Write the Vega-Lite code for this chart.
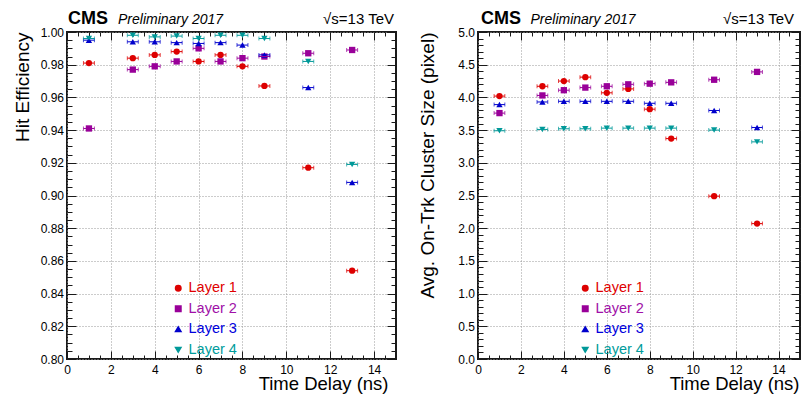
{
  "$schema": "https://vega.github.io/schema/vega-lite/v6.json",
  "autosize": {"type": "pad"},
  "padding": {"left": 12, "top": 8, "right": 0, "bottom": 0},
  "background": "white",
  "bounds": "flush",
  "spacing": 82,
  "datasets": {
    "eff": [
      {"t": 1, "layer": "Layer 1", "v": 0.981, "lo": 0.75, "hi": 1.25},
      {"t": 3, "layer": "Layer 1", "v": 0.984, "lo": 2.75, "hi": 3.25},
      {"t": 4, "layer": "Layer 1", "v": 0.986, "lo": 3.75, "hi": 4.25},
      {"t": 5, "layer": "Layer 1", "v": 0.988, "lo": 4.75, "hi": 5.25},
      {"t": 6, "layer": "Layer 1", "v": 0.982, "lo": 5.75, "hi": 6.25},
      {"t": 7, "layer": "Layer 1", "v": 0.986, "lo": 6.75, "hi": 7.25},
      {"t": 8, "layer": "Layer 1", "v": 0.979, "lo": 7.75, "hi": 8.25},
      {"t": 9, "layer": "Layer 1", "v": 0.967, "lo": 8.75, "hi": 9.25},
      {"t": 11, "layer": "Layer 1", "v": 0.917, "lo": 10.75, "hi": 11.25},
      {"t": 13, "layer": "Layer 1", "v": 0.854, "lo": 12.75, "hi": 13.25},
      {"t": 1, "layer": "Layer 2", "v": 0.941, "lo": 0.75, "hi": 1.25},
      {"t": 3, "layer": "Layer 2", "v": 0.977, "lo": 2.75, "hi": 3.25},
      {"t": 4, "layer": "Layer 2", "v": 0.979, "lo": 3.75, "hi": 4.25},
      {"t": 5, "layer": "Layer 2", "v": 0.982, "lo": 4.75, "hi": 5.25},
      {"t": 6, "layer": "Layer 2", "v": 0.990, "lo": 5.75, "hi": 6.25},
      {"t": 7, "layer": "Layer 2", "v": 0.982, "lo": 6.75, "hi": 7.25},
      {"t": 8, "layer": "Layer 2", "v": 0.984, "lo": 7.75, "hi": 8.25},
      {"t": 9, "layer": "Layer 2", "v": 0.985, "lo": 8.75, "hi": 9.25},
      {"t": 11, "layer": "Layer 2", "v": 0.987, "lo": 10.75, "hi": 11.25},
      {"t": 13, "layer": "Layer 2", "v": 0.989, "lo": 12.75, "hi": 13.25},
      {"t": 1, "layer": "Layer 3", "v": 0.995, "lo": 0.75, "hi": 1.25},
      {"t": 3, "layer": "Layer 3", "v": 0.994, "lo": 2.75, "hi": 3.25},
      {"t": 4, "layer": "Layer 3", "v": 0.994, "lo": 3.75, "hi": 4.25},
      {"t": 5, "layer": "Layer 3", "v": 0.9935, "lo": 4.75, "hi": 5.25},
      {"t": 6, "layer": "Layer 3", "v": 0.993, "lo": 5.75, "hi": 6.25},
      {"t": 7, "layer": "Layer 3", "v": 0.9935, "lo": 6.75, "hi": 7.25},
      {"t": 8, "layer": "Layer 3", "v": 0.992, "lo": 7.75, "hi": 8.25},
      {"t": 9, "layer": "Layer 3", "v": 0.986, "lo": 8.75, "hi": 9.25},
      {"t": 11, "layer": "Layer 3", "v": 0.966, "lo": 10.75, "hi": 11.25},
      {"t": 13, "layer": "Layer 3", "v": 0.908, "lo": 12.75, "hi": 13.25},
      {"t": 1, "layer": "Layer 4", "v": 0.996, "lo": 0.75, "hi": 1.25},
      {"t": 3, "layer": "Layer 4", "v": 0.998, "lo": 2.75, "hi": 3.25},
      {"t": 4, "layer": "Layer 4", "v": 0.997, "lo": 3.75, "hi": 4.25},
      {"t": 5, "layer": "Layer 4", "v": 0.9975, "lo": 4.75, "hi": 5.25},
      {"t": 6, "layer": "Layer 4", "v": 0.996, "lo": 5.75, "hi": 6.25},
      {"t": 7, "layer": "Layer 4", "v": 0.998, "lo": 6.75, "hi": 7.25},
      {"t": 8, "layer": "Layer 4", "v": 0.998, "lo": 7.75, "hi": 8.25},
      {"t": 9, "layer": "Layer 4", "v": 0.996, "lo": 8.75, "hi": 9.25},
      {"t": 11, "layer": "Layer 4", "v": 0.982, "lo": 10.75, "hi": 11.25},
      {"t": 13, "layer": "Layer 4", "v": 0.919, "lo": 12.75, "hi": 13.25}
    ],
    "size": [
      {"t": 1, "layer": "Layer 1", "v": 4.02, "lo": 0.75, "hi": 1.25},
      {"t": 3, "layer": "Layer 1", "v": 4.17, "lo": 2.75, "hi": 3.25},
      {"t": 4, "layer": "Layer 1", "v": 4.25, "lo": 3.75, "hi": 4.25},
      {"t": 5, "layer": "Layer 1", "v": 4.31, "lo": 4.75, "hi": 5.25},
      {"t": 6, "layer": "Layer 1", "v": 4.07, "lo": 5.75, "hi": 6.25},
      {"t": 7, "layer": "Layer 1", "v": 4.13, "lo": 6.75, "hi": 7.25},
      {"t": 8, "layer": "Layer 1", "v": 3.82, "lo": 7.75, "hi": 8.25},
      {"t": 9, "layer": "Layer 1", "v": 3.37, "lo": 8.75, "hi": 9.25},
      {"t": 11, "layer": "Layer 1", "v": 2.49, "lo": 10.75, "hi": 11.25},
      {"t": 13, "layer": "Layer 1", "v": 2.07, "lo": 12.75, "hi": 13.25},
      {"t": 1, "layer": "Layer 2", "v": 3.76, "lo": 0.75, "hi": 1.25},
      {"t": 3, "layer": "Layer 2", "v": 4.03, "lo": 2.75, "hi": 3.25},
      {"t": 4, "layer": "Layer 2", "v": 4.11, "lo": 3.75, "hi": 4.25},
      {"t": 5, "layer": "Layer 2", "v": 4.15, "lo": 4.75, "hi": 5.25},
      {"t": 6, "layer": "Layer 2", "v": 4.17, "lo": 5.75, "hi": 6.25},
      {"t": 7, "layer": "Layer 2", "v": 4.20, "lo": 6.75, "hi": 7.25},
      {"t": 8, "layer": "Layer 2", "v": 4.21, "lo": 7.75, "hi": 8.25},
      {"t": 9, "layer": "Layer 2", "v": 4.23, "lo": 8.75, "hi": 9.25},
      {"t": 11, "layer": "Layer 2", "v": 4.27, "lo": 10.75, "hi": 11.25},
      {"t": 13, "layer": "Layer 2", "v": 4.39, "lo": 12.75, "hi": 13.25},
      {"t": 1, "layer": "Layer 3", "v": 3.89, "lo": 0.75, "hi": 1.25},
      {"t": 3, "layer": "Layer 3", "v": 3.93, "lo": 2.75, "hi": 3.25},
      {"t": 4, "layer": "Layer 3", "v": 3.94, "lo": 3.75, "hi": 4.25},
      {"t": 5, "layer": "Layer 3", "v": 3.94, "lo": 4.75, "hi": 5.25},
      {"t": 6, "layer": "Layer 3", "v": 3.94, "lo": 5.75, "hi": 6.25},
      {"t": 7, "layer": "Layer 3", "v": 3.94, "lo": 6.75, "hi": 7.25},
      {"t": 8, "layer": "Layer 3", "v": 3.91, "lo": 7.75, "hi": 8.25},
      {"t": 9, "layer": "Layer 3", "v": 3.91, "lo": 8.75, "hi": 9.25},
      {"t": 11, "layer": "Layer 3", "v": 3.80, "lo": 10.75, "hi": 11.25},
      {"t": 13, "layer": "Layer 3", "v": 3.54, "lo": 12.75, "hi": 13.25},
      {"t": 1, "layer": "Layer 4", "v": 3.49, "lo": 0.75, "hi": 1.25},
      {"t": 3, "layer": "Layer 4", "v": 3.51, "lo": 2.75, "hi": 3.25},
      {"t": 4, "layer": "Layer 4", "v": 3.52, "lo": 3.75, "hi": 4.25},
      {"t": 5, "layer": "Layer 4", "v": 3.52, "lo": 4.75, "hi": 5.25},
      {"t": 6, "layer": "Layer 4", "v": 3.53, "lo": 5.75, "hi": 6.25},
      {"t": 7, "layer": "Layer 4", "v": 3.53, "lo": 6.75, "hi": 7.25},
      {"t": 8, "layer": "Layer 4", "v": 3.53, "lo": 7.75, "hi": 8.25},
      {"t": 9, "layer": "Layer 4", "v": 3.53, "lo": 8.75, "hi": 9.25},
      {"t": 11, "layer": "Layer 4", "v": 3.50, "lo": 10.75, "hi": 11.25},
      {"t": 13, "layer": "Layer 4", "v": 3.32, "lo": 12.75, "hi": 13.25}
    ]
  },
  "resolve": {
    "scale": {"color": "independent", "shape": "independent"},
    "legend": {"color": "independent", "shape": "independent"}
  },
  "hconcat": [
    {
      "width": 329,
      "height": 327,
      "data": {"name": "eff"},
      "resolve": {"axis": {"x": "independent", "y": "independent"}},
      "layer": [
        {
          "mark": {"type": "point", "filled": true, "opacity": 1, "size": 40},
          "encoding": {
            "x": {"field": "t", "type": "quantitative",
              "scale": {"domain": [0, 15], "nice": false, "zero": false},
              "axis": {"orient": "bottom", "values": [0, 2, 4, 6, 8, 10, 12, 14], "format": "d", "tickSize": -8, "labelPadding": 13, "grid": true,
                "title": "Time Delay (ns)", "titleFontSize": 18.5, "titleAlign": "right", "titleBaseline": "alphabetic", "titleX": 321, "titleY": 30.5}},
            "y": {"field": "v", "type": "quantitative",
              "scale": {"domain": [0.8, 1.0], "nice": false, "zero": false},
              "axis": {"orient": "left", "values": [0.8, 0.82, 0.84, 0.86, 0.88, 0.9, 0.92, 0.94, 0.96, 0.98, 1], "format": ".2f", "tickSize": -9, "labelPadding": 12.5, "grid": true,
                "title": "Hit Efficiency", "titleFontSize": 19, "titleAngle": -90, "titleAlign": "right", "titleBaseline": "alphabetic", "titleX": -38.5, "titleY": 0}},
            "color": {"field": "layer", "type": "nominal",
              "scale": {"domain": ["Layer 1", "Layer 2", "Layer 3", "Layer 4"], "range": ["#dd0000", "#990099", "#0000cc", "#009999"]},
              "legend": {"orient": "none", "legendX": 104, "legendY": 249, "title": null, "padding": 0, "labelFontSize": 14.5, "symbolSize": 30, "rowPadding": 5.5, "labelOffset": 3,
                "labelColor": {"expr": "datum.value === 'Layer 1' ? '#e00000' : datum.value === 'Layer 2' ? '#a010a8' : datum.value === 'Layer 3' ? '#0000dd' : '#009c9c'"}}},
            "shape": {"field": "layer", "type": "nominal",
              "scale": {"domain": ["Layer 1", "Layer 2", "Layer 3", "Layer 4"], "range": ["circle", "square", "triangle-up", "triangle-down"]},
              "legend": {"orient": "none", "legendX": 104, "legendY": 249, "title": null, "padding": 0, "labelFontSize": 14.5, "symbolSize": 30, "rowPadding": 5.5, "labelOffset": 3,
                "labelColor": {"expr": "datum.value === 'Layer 1' ? '#e00000' : datum.value === 'Layer 2' ? '#a010a8' : datum.value === 'Layer 3' ? '#0000dd' : '#009c9c'"}}}
          }
        },
        {
          "mark": {"type": "rule", "strokeWidth": 1},
          "encoding": {
            "x": {"field": "lo", "type": "quantitative",
              "axis": {"orient": "bottom", "values": [0,0.5,1,1.5,2,2.5,3,3.5,4,4.5,5,5.5,6,6.5,7,7.5,8,8.5,9,9.5,10,10.5,11,11.5,12,12.5,13,13.5,14,14.5,15], "tickSize": -4, "labels": false, "grid": false, "title": null}},
            "x2": {"field": "hi"},
            "y": {"field": "v", "type": "quantitative",
              "axis": {"orient": "left", "values": [0.8,0.805,0.81,0.815,0.82,0.825,0.83,0.835,0.84,0.845,0.85,0.855,0.86,0.865,0.87,0.875,0.88,0.885,0.89,0.895,0.9,0.905,0.91,0.915,0.92,0.925,0.93,0.935,0.94,0.945,0.95,0.955,0.96,0.965,0.97,0.975,0.98,0.985,0.99,0.995,1], "tickSize": -5, "labels": false, "grid": false, "title": null}},
            "color": {"field": "layer", "type": "nominal", "legend": null}
          }
        },
        {
          "mark": {"type": "tick", "orient": "vertical", "size": 4, "thickness": 1},
          "encoding": {
            "x": {"field": "lo", "type": "quantitative",
              "axis": {"orient": "top", "values": [0, 2, 4, 6, 8, 10, 12, 14], "tickSize": -8, "labels": false, "grid": false,
                "title": "√s=13 TeV", "titleFontSize": 15, "titleAlign": "right", "titleBaseline": "alphabetic", "titleX": 326.5, "titleY": -8.5}},
            "y": {"field": "v", "type": "quantitative",
              "axis": {"orient": "right", "values": [0.8, 0.82, 0.84, 0.86, 0.88, 0.9, 0.92, 0.94, 0.96, 0.98, 1], "tickSize": -9, "labels": false, "grid": false, "title": null}},
            "color": {"field": "layer", "type": "nominal", "legend": null}
          }
        },
        {
          "mark": {"type": "tick", "orient": "vertical", "size": 4, "thickness": 1},
          "encoding": {
            "x": {"field": "hi", "type": "quantitative",
              "axis": {"orient": "top", "values": [0,0.5,1,1.5,2,2.5,3,3.5,4,4.5,5,5.5,6,6.5,7,7.5,8,8.5,9,9.5,10,10.5,11,11.5,12,12.5,13,13.5,14,14.5,15], "tickSize": -4, "labels": false, "grid": false,
                "title": "Preliminary 2017", "titleFontSize": 14, "titleFontStyle": "italic", "titleAlign": "left", "titleBaseline": "alphabetic", "titleX": 50.5, "titleY": -8.5}},
            "y": {"field": "v", "type": "quantitative",
              "axis": {"orient": "right", "values": [0.8,0.805,0.81,0.815,0.82,0.825,0.83,0.835,0.84,0.845,0.85,0.855,0.86,0.865,0.87,0.875,0.88,0.885,0.89,0.895,0.9,0.905,0.91,0.915,0.92,0.925,0.93,0.935,0.94,0.945,0.95,0.955,0.96,0.965,0.97,0.975,0.98,0.985,0.99,0.995,1], "tickSize": -5, "labels": false, "grid": false, "title": null}},
            "color": {"field": "layer", "type": "nominal", "legend": null}
          }
        },
        {
          "mark": {"type": "point", "opacity": 0},
          "encoding": {
            "x": {"field": "t", "type": "quantitative",
              "axis": {"orient": "top", "ticks": false, "labels": false, "grid": false, "domain": false,
                "title": "CMS", "titleFontSize": 18, "titleFontWeight": "bold", "titleAlign": "left", "titleBaseline": "alphabetic", "titleX": 0.5, "titleY": -8.5}},
            "y": {"field": "v", "type": "quantitative", "axis": null}
          }
        }
      ]
    },
    {
      "width": 322,
      "height": 327,
      "data": {"name": "size"},
      "resolve": {"axis": {"x": "independent", "y": "independent"}},
      "layer": [
        {
          "mark": {"type": "point", "filled": true, "opacity": 1, "size": 40},
          "encoding": {
            "x": {"field": "t", "type": "quantitative",
              "scale": {"domain": [0, 15], "nice": false, "zero": false},
              "axis": {"orient": "bottom", "values": [0, 2, 4, 6, 8, 10, 12, 14], "format": "d", "tickSize": -8, "labelPadding": 13, "grid": true,
                "title": "Time Delay (ns)", "titleFontSize": 18.5, "titleAlign": "right", "titleBaseline": "alphabetic", "titleX": 321, "titleY": 30.5}},
            "y": {"field": "v", "type": "quantitative",
              "scale": {"domain": [0, 5], "nice": false, "zero": false},
              "axis": {"orient": "left", "values": [0, 0.5, 1, 1.5, 2, 2.5, 3, 3.5, 4, 4.5, 5], "format": ".1f", "tickSize": -9, "labelPadding": 12.5, "grid": true,
                "title": "Avg. On-Trk Cluster Size (pixel)", "titleFontSize": 19, "titleAngle": -90, "titleAlign": "right", "titleBaseline": "alphabetic", "titleX": -45, "titleY": 0}},
            "color": {"field": "layer", "type": "nominal",
              "scale": {"domain": ["Layer 1", "Layer 2", "Layer 3", "Layer 4"], "range": ["#dd0000", "#990099", "#0000cc", "#009999"]},
              "legend": {"orient": "none", "legendX": 100, "legendY": 249, "title": null, "padding": 0, "labelFontSize": 14.5, "symbolSize": 30, "rowPadding": 5.5, "labelOffset": 3,
                "labelColor": {"expr": "datum.value === 'Layer 1' ? '#e00000' : datum.value === 'Layer 2' ? '#a010a8' : datum.value === 'Layer 3' ? '#0000dd' : '#009c9c'"}}},
            "shape": {"field": "layer", "type": "nominal",
              "scale": {"domain": ["Layer 1", "Layer 2", "Layer 3", "Layer 4"], "range": ["circle", "square", "triangle-up", "triangle-down"]},
              "legend": {"orient": "none", "legendX": 100, "legendY": 249, "title": null, "padding": 0, "labelFontSize": 14.5, "symbolSize": 30, "rowPadding": 5.5, "labelOffset": 3,
                "labelColor": {"expr": "datum.value === 'Layer 1' ? '#e00000' : datum.value === 'Layer 2' ? '#a010a8' : datum.value === 'Layer 3' ? '#0000dd' : '#009c9c'"}}}
          }
        },
        {
          "mark": {"type": "rule", "strokeWidth": 1},
          "encoding": {
            "x": {"field": "lo", "type": "quantitative",
              "axis": {"orient": "bottom", "values": [0,0.5,1,1.5,2,2.5,3,3.5,4,4.5,5,5.5,6,6.5,7,7.5,8,8.5,9,9.5,10,10.5,11,11.5,12,12.5,13,13.5,14,14.5,15], "tickSize": -4, "labels": false, "grid": false, "title": null}},
            "x2": {"field": "hi"},
            "y": {"field": "v", "type": "quantitative",
              "axis": {"orient": "left", "values": [0,0.1,0.2,0.3,0.4,0.5,0.6,0.7,0.8,0.9,1,1.1,1.2,1.3,1.4,1.5,1.6,1.7,1.8,1.9,2,2.1,2.2,2.3,2.4,2.5,2.6,2.7,2.8,2.9,3,3.1,3.2,3.3,3.4,3.5,3.6,3.7,3.8,3.9,4,4.1,4.2,4.3,4.4,4.5,4.6,4.7,4.8,4.9,5], "tickSize": -5, "labels": false, "grid": false, "title": null}},
            "color": {"field": "layer", "type": "nominal", "legend": null}
          }
        },
        {
          "mark": {"type": "tick", "orient": "vertical", "size": 4, "thickness": 1},
          "encoding": {
            "x": {"field": "lo", "type": "quantitative",
              "axis": {"orient": "top", "values": [0, 2, 4, 6, 8, 10, 12, 14], "tickSize": -8, "labels": false, "grid": false,
                "title": "√s=13 TeV", "titleFontSize": 15, "titleAlign": "right", "titleBaseline": "alphabetic", "titleX": 315.5, "titleY": -8.5}},
            "y": {"field": "v", "type": "quantitative",
              "axis": {"orient": "right", "values": [0, 0.5, 1, 1.5, 2, 2.5, 3, 3.5, 4, 4.5, 5], "tickSize": -9, "labels": false, "grid": false, "title": null}},
            "color": {"field": "layer", "type": "nominal", "legend": null}
          }
        },
        {
          "mark": {"type": "tick", "orient": "vertical", "size": 4, "thickness": 1},
          "encoding": {
            "x": {"field": "hi", "type": "quantitative",
              "axis": {"orient": "top", "values": [0,0.5,1,1.5,2,2.5,3,3.5,4,4.5,5,5.5,6,6.5,7,7.5,8,8.5,9,9.5,10,10.5,11,11.5,12,12.5,13,13.5,14,14.5,15], "tickSize": -4, "labels": false, "grid": false,
                "title": "Preliminary 2017", "titleFontSize": 14, "titleFontStyle": "italic", "titleAlign": "left", "titleBaseline": "alphabetic", "titleX": 52, "titleY": -8.5}},
            "y": {"field": "v", "type": "quantitative",
              "axis": {"orient": "right", "values": [0,0.1,0.2,0.3,0.4,0.5,0.6,0.7,0.8,0.9,1,1.1,1.2,1.3,1.4,1.5,1.6,1.7,1.8,1.9,2,2.1,2.2,2.3,2.4,2.5,2.6,2.7,2.8,2.9,3,3.1,3.2,3.3,3.4,3.5,3.6,3.7,3.8,3.9,4,4.1,4.2,4.3,4.4,4.5,4.6,4.7,4.8,4.9,5], "tickSize": -5, "labels": false, "grid": false, "title": null}},
            "color": {"field": "layer", "type": "nominal", "legend": null}
          }
        },
        {
          "mark": {"type": "point", "opacity": 0},
          "encoding": {
            "x": {"field": "t", "type": "quantitative",
              "axis": {"orient": "top", "ticks": false, "labels": false, "grid": false, "domain": false,
                "title": "CMS", "titleFontSize": 18, "titleFontWeight": "bold", "titleAlign": "left", "titleBaseline": "alphabetic", "titleX": 2.5, "titleY": -8.5}},
            "y": {"field": "v", "type": "quantitative", "axis": null}
          }
        }
      ]
    }
  ],
  "config": {
    "font": "Liberation Sans",
    "view": {"stroke": "#1a1a1a", "strokeWidth": 2},
    "axis": {
      "labelFont": "Liberation Sans", "titleFont": "Liberation Sans", "labelFontSize": 12, "labelColor": "#000000",
      "titleColor": "#000000", "titleFontWeight": "normal", "tickColor": "#1a1a1a", "tickWidth": 1, "domain": false,
      "labelFlush": false, "labelOverlap": false, "gridColor": "#999999", "gridDash": [1, 2], "gridWidth": 1
    },
    "legend": {"labelFont": "Liberation Sans"}
  }
}
